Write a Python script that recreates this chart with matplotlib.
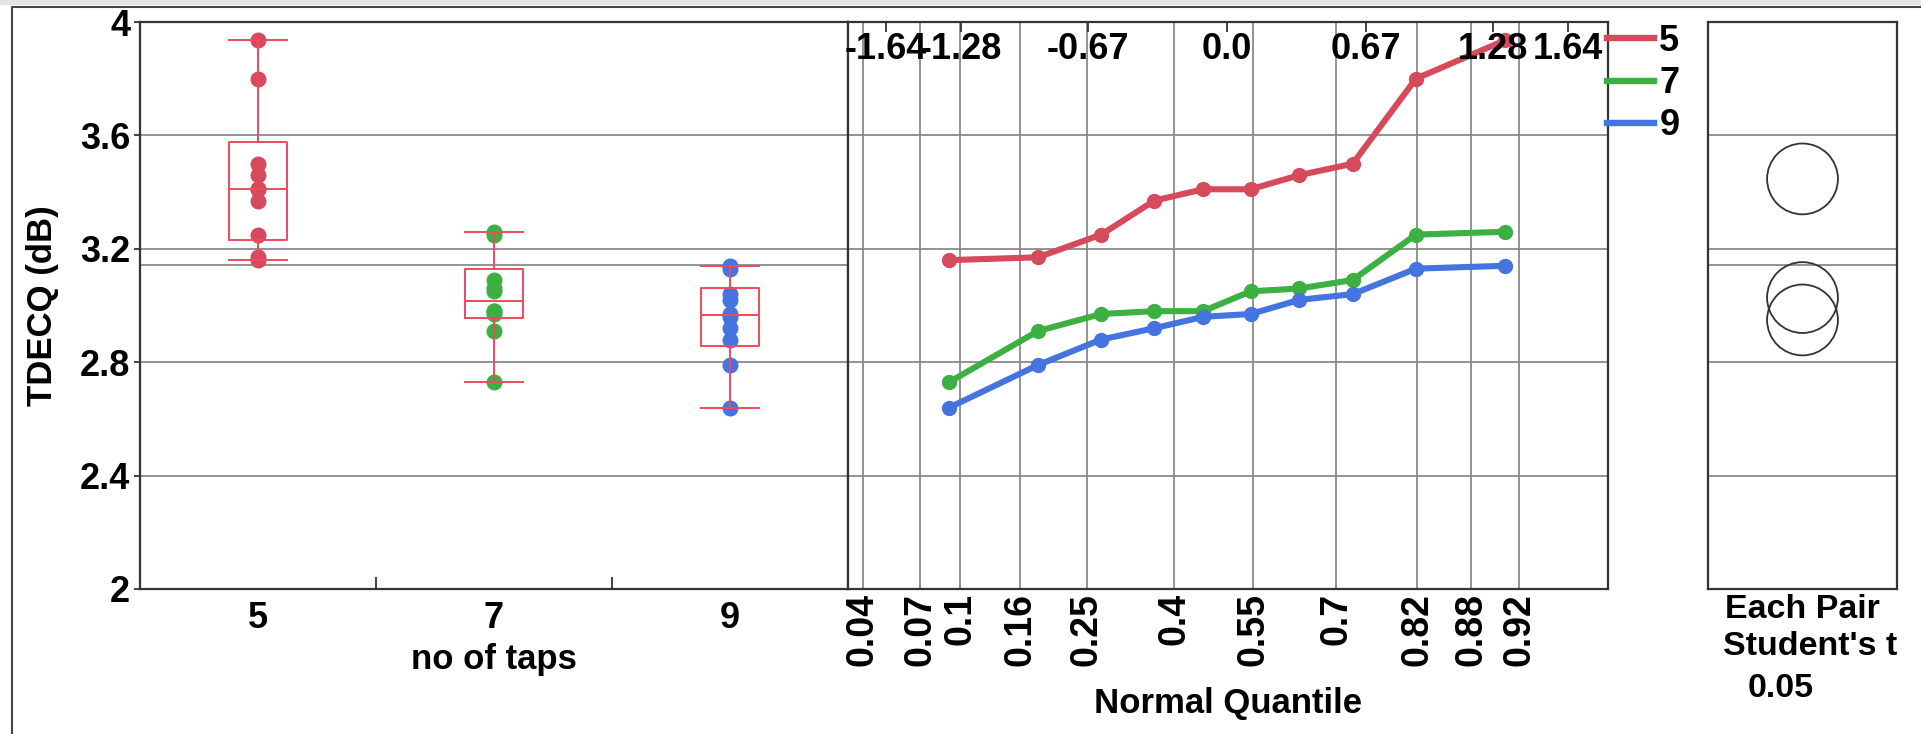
"""
TDECQ vs number of taps: box plot, normal quantile plot and comparison circles (JMP style).
"""
import numpy as np
import matplotlib.pyplot as plt
from matplotlib.lines import Line2D
from matplotlib.patches import Ellipse, Rectangle
from statistics import NormalDist

plt.rcParams['font.family'] = ['Liberation Sans', 'DejaVu Sans']
plt.rcParams['font.weight'] = 'bold'
plt.rcParams['axes.labelweight'] = 'bold'

# ---------------- data ----------------
groups = ['5', '7', '9']
tdecq_5 = [3.16, 3.17, 3.25, 3.37, 3.41, 3.41, 3.46, 3.50, 3.80, 3.935]
tdecq_7 = [2.73, 2.91, 2.97, 2.98, 2.98, 3.05, 3.06, 3.09, 3.25, 3.26]
tdecq_9 = [2.64, 2.79, 2.88, 2.92, 2.96, 2.97, 3.02, 3.04, 3.13, 3.14]
colors = ['#D64A5B', '#3CB043', '#4573DF']
box_color = '#EE4A5E'

y_ticks = [2, 2.4, 2.8, 3.2, 3.6, 4]
y_ticklabels = ['2', '2.4', '2.8', '3.2', '3.6', '4']
prob_ticks = [0.04, 0.07, 0.1, 0.16, 0.25, 0.4, 0.55, 0.7, 0.82, 0.88, 0.92]
prob_labels = ['0.04', '0.07', '0.1', '0.16', '0.25', '0.4', '0.55', '0.7', '0.82', '0.88', '0.92']
z_ticks = [-1.64, -1.28, -0.67, 0.0, 0.67, 1.28, 1.64]
z_labels = ['-1.64', '-1.28', '-0.67', '0.0', '0.67', '1.28', '1.64']
t_crit = 2.052  # Student's t, alpha 0.05, df 27

data = [tdecq_5, tdecq_7, tdecq_9]
grid_c = '#8a8a8a'
spine_c = '#333333'

W, H = 1921, 734
fig = plt.figure(figsize=(W / 100, H / 100), dpi=100)


def px_axes(x0, x1, ytop, ybot):
    return fig.add_axes([x0 / W, (H - ybot) / H, (x1 - x0) / W, (ybot - ytop) / H])


ax1 = px_axes(140, 848, 22, 589)
ax2 = px_axes(848, 1608, 22, 589)
ax3 = px_axes(1708, 1897, 22, 589)

grand_mean = np.mean(np.concatenate(data))

for ax in (ax1, ax2, ax3):
    ax.set_ylim(2, 4)
    for s in ax.spines.values():
        s.set_color(spine_c)
        s.set_linewidth(1.6)
    for y in y_ticks[1:-1]:
        ax.axhline(y, color=grid_c, lw=1.3, zorder=0)

# ---------------- box plot ----------------
stats = []
for vals in data:
    v = np.array(vals)
    q1, med, q3 = np.percentile(v, [25, 50, 75], method='weibull')
    iqr = q3 - q1
    lo = v[v >= q1 - 1.5 * iqr].min()
    hi = v[v <= q3 + 1.5 * iqr].max()
    stats.append(dict(med=med, q1=q1, q3=q3, whislo=lo, whishi=hi, fliers=[]))

pos = np.arange(len(groups))
ax1.axhline(grand_mean, color=grid_c, lw=1.3, zorder=0)
for i, vals in enumerate(data):
    ax1.plot([pos[i]] * len(vals), vals, 'o', color=colors[i], ms=10.5, zorder=2)
lp = dict(color=box_color, lw=1.4)
ax1.bxp(stats, positions=pos, widths=0.245, capwidths=0.245, showfliers=False,
        boxprops=lp, whiskerprops=lp, capprops=lp, medianprops=lp, zorder=3)
ax1.set_xlim(-0.5, 2.5)
ax1.set_xticks(pos)
ax1.set_xticklabels(groups, fontsize=26)
ax1.set_xticks([0.5, 1.5], minor=True)
ax1.tick_params(axis='x', which='major', length=0, pad=9)
ax1.tick_params(axis='x', which='minor', direction='in', length=9, width=1.3, color=spine_c)
ax1.set_yticks(y_ticks)
ax1.set_yticklabels(y_ticklabels, fontsize=26)
ax1.tick_params(axis='y', length=4, width=1.3, color=spine_c, pad=3)
ax1.set_xlabel('no of taps', fontsize=25)
ax1.xaxis.set_label_coords(0.5, -0.095)
ax1.set_ylabel('TDECQ (dB)', fontsize=25)
ax1.yaxis.set_label_coords(-0.115, 0.5)

# ---------------- normal quantile plot ----------------
nd = NormalDist()
for i, vals in enumerate(data):
    n = len(vals)
    zq = [nd.inv_cdf(k / (n + 1)) for k in range(1, n + 1)]
    ax2.plot(zq, sorted(vals), '-o', color=colors[i], lw=4.4, ms=10, zorder=3)

ax2.set_xlim(-1.822, 1.832)
prob_z = [nd.inv_cdf(p) for p in prob_ticks]
for z in prob_z:
    ax2.axvline(z, color=grid_c, lw=1.3, zorder=0)
ax2.set_xticks(prob_z)
ax2.set_xticklabels(prob_labels, rotation=90, fontsize=27)
ax2.tick_params(axis='x', length=0, pad=3)
ax2.set_yticks([])
ax2.set_xlabel('Normal Quantile', fontsize=25)
ax2.xaxis.set_label_coords(0.5, -0.172)

top = ax2.secondary_xaxis('top')
top.set_xticks(z_ticks)
top.set_xticklabels([])
top.tick_params(direction='in', length=7, width=1.3, color=spine_c)
top.spines['top'].set_visible(False)
for z, lab in zip(z_ticks, z_labels):
    ax2.text(z, 0.9347, lab, transform=ax2.get_xaxis_transform(), ha='center',
             va='baseline', fontsize=26, zorder=4)

handles = [Line2D([], [], color=c, lw=4.6) for c in colors]
fig.legend(handles, groups, loc='upper left', bbox_to_anchor=(1607 / W, (H - 24) / H),
           frameon=False, borderpad=0, borderaxespad=0, handlelength=1.3,
           handletextpad=0.15, labelspacing=0.2, prop=dict(size=26, weight='bold'))

# ---------------- comparison circles ----------------
means = [np.mean(v) for v in data]
dfe = sum(len(v) for v in data) - len(data)
mse = sum(((np.array(v) - np.mean(v)) ** 2).sum() for v in data) / dfe
ax3.set_xlim(0, 1)
ax3.set_xticks([])
ax3.set_yticks([])
ax3.axhline(grand_mean, color=grid_c, lw=1.3, zorder=0)
ppu_y = (589 - 22) / 2.0
ppu_x = (1897 - 1708) / 1.0
for m, v in zip(means, data):
    r = t_crit * np.sqrt(mse / len(v))
    ax3.add_patch(Ellipse((0.5, m), 2 * r * ppu_y / ppu_x, 2 * r, fill=False,
                          ec='#333333', lw=1.3))
fig.text(1725 / W, (H - 618) / H, 'Each Pair', fontsize=24.5, va='baseline')
fig.text(1723 / W, (H - 655) / H, "Student's t", fontsize=24.5, va='baseline')
fig.text(1748 / W, (H - 697) / H, '0.05', fontsize=24.5, va='baseline')

# outer report frame
fig.add_artist(Rectangle((0, (H - 5) / H), 1, 5 / H, transform=fig.transFigure,
                         color='#e4e4e4', lw=0))
fig.add_artist(Line2D([12 / W, 12 / W, 1], [0, (H - 7) / H, (H - 7) / H],
                      transform=fig.transFigure, color='#444444', lw=1.5))

fig.savefig('out.png', dpi=100)
